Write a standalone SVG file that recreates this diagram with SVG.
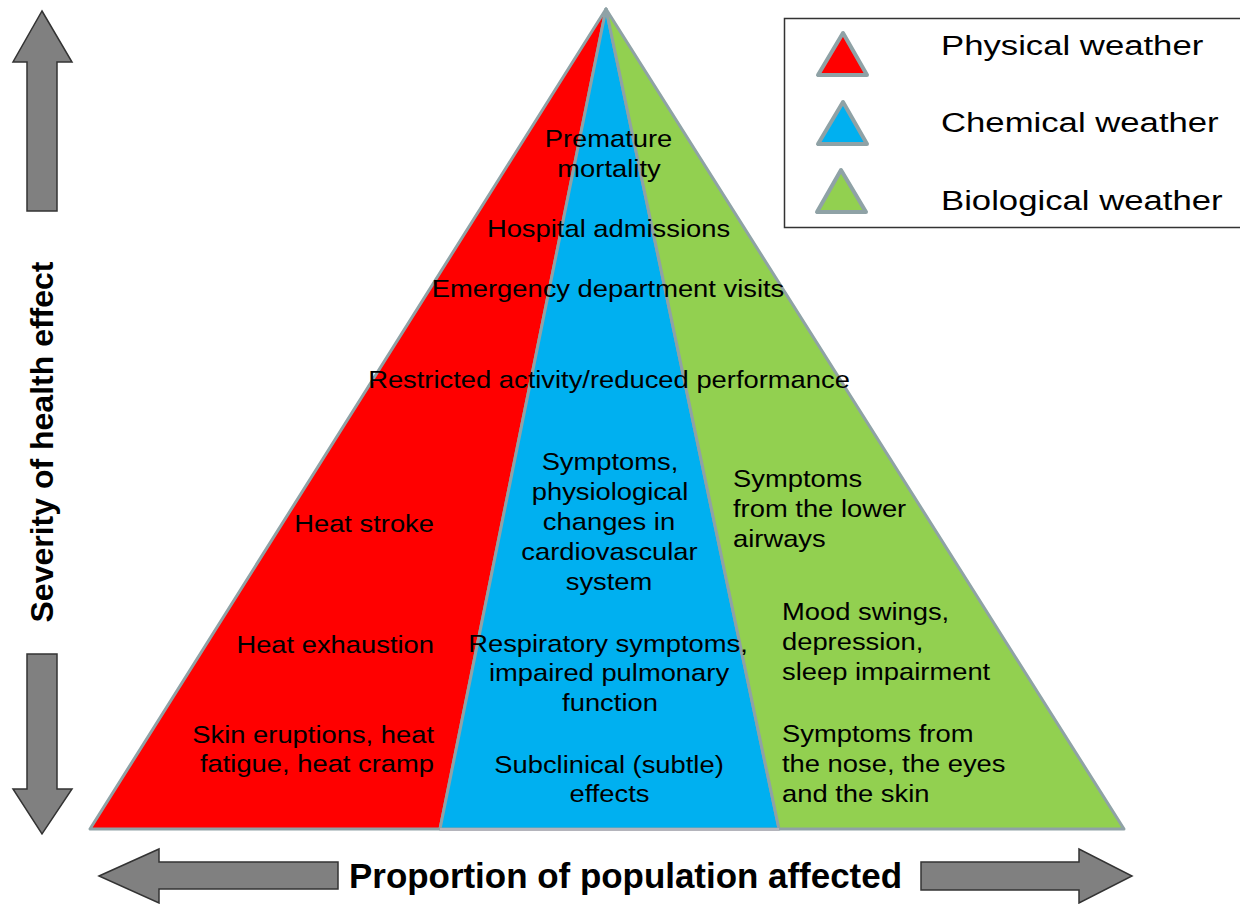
<svg xmlns="http://www.w3.org/2000/svg" width="1240" height="904" viewBox="0 0 1240 904">
<style>
.seg{stroke:#8fa2a6;stroke-width:3;stroke-linejoin:round}
.red{fill:#ff0000}.blue{fill:#00b0f0}.green{fill:#92d050}
.lt{stroke:#8fa2a6;stroke-width:4;stroke-linejoin:round}
.arr{fill:#808080;stroke:#333333;stroke-width:1.5;stroke-linejoin:miter}
.t{font-family:"Liberation Sans",Arial,sans-serif;font-size:24px;fill:#000}
.c{text-anchor:middle}.r{text-anchor:end}
.lg{font-family:"Liberation Sans",Arial,sans-serif;font-size:28px;fill:#000}
.ax{font-family:"Liberation Sans",Arial,sans-serif;font-weight:bold;fill:#000}
</style>
<rect width="1240" height="904" fill="#ffffff"/>

<g id="pyramid">
  <g id="physical"><polygon class="seg red" points="606,9 90,829 440,829"/></g>
  <g id="chemical"><polygon class="seg blue" points="606,9 440,829 779,829"/></g>
  <g id="biological"><polygon class="seg green" points="606,9 779,829 1124,829"/></g>
  <line x1="440" y1="829.5" x2="779" y2="829.5" stroke="#b4b4bb" stroke-width="3"/>
</g>

<g id="labels">
  <g id="severe">
    <text class="t c" transform="translate(608.5,147) scale(1.14,1)">Premature</text>
    <text class="t c" transform="translate(609,177) scale(1.14,1)">mortality</text>
    <text class="t c" transform="translate(608.5,237) scale(1.14,1)">Hospital admissions</text>
    <text class="t c" transform="translate(608,297) scale(1.14,1)">Emergency department visits</text>
    <text class="t c" transform="translate(609,388) scale(1.14,1)">Restricted activity/reduced performance</text>
  </g>
  <g id="physical-labels">
    <text class="t r" transform="translate(434,532) scale(1.14,1)">Heat stroke</text>
    <text class="t r" transform="translate(434,653) scale(1.14,1)">Heat exhaustion</text>
    <text class="t r" transform="translate(434,743) scale(1.14,1)">Skin eruptions, heat</text>
    <text class="t r" transform="translate(434,772) scale(1.14,1)">fatigue, heat cramp</text>
  </g>
  <g id="chemical-labels">
    <text class="t c" transform="translate(610,470) scale(1.14,1)">Symptoms,</text>
    <text class="t c" transform="translate(610,500) scale(1.14,1)">physiological</text>
    <text class="t c" transform="translate(609,530) scale(1.14,1)">changes in</text>
    <text class="t c" transform="translate(609.5,560) scale(1.14,1)">cardiovascular</text>
    <text class="t c" transform="translate(609,590) scale(1.14,1)">system</text>
    <text class="t c" transform="translate(608,652) scale(1.14,1)">Respiratory symptoms,</text>
    <text class="t c" transform="translate(609,681) scale(1.14,1)">impaired pulmonary</text>
    <text class="t c" transform="translate(610,711) scale(1.14,1)">function</text>
    <text class="t c" transform="translate(609,773) scale(1.14,1)">Subclinical (subtle)</text>
    <text class="t c" transform="translate(609.5,802) scale(1.14,1)">effects</text>
  </g>
  <g id="biological-labels">
    <text class="t" transform="translate(733,487) scale(1.14,1)">Symptoms</text>
    <text class="t" transform="translate(733,517) scale(1.14,1)">from the lower</text>
    <text class="t" transform="translate(733,547) scale(1.14,1)">airways</text>
    <text class="t" transform="translate(782,620) scale(1.14,1)">Mood swings,</text>
    <text class="t" transform="translate(782,650) scale(1.14,1)">depression,</text>
    <text class="t" transform="translate(782,680) scale(1.14,1)">sleep impairment</text>
    <text class="t" transform="translate(782,742) scale(1.14,1)">Symptoms from</text>
    <text class="t" transform="translate(782,772) scale(1.14,1)">the nose, the eyes</text>
    <text class="t" transform="translate(782,802) scale(1.14,1)">and the skin</text>
  </g>
</g>

<g id="legend">
  <rect x="784.5" y="18.5" width="470" height="209" fill="#ffffff" stroke="#333333" stroke-width="1.5"/>
  <g id="legend-physical">
    <polygon class="lt red" points="843,33 818,75 867,75"/>
    <text class="lg" transform="translate(941,55) scale(1.24,1)">Physical weather</text>
  </g>
  <g id="legend-chemical">
    <polygon class="lt blue" points="843,102 818,144 867,144"/>
    <text class="lg" transform="translate(941,132) scale(1.24,1)">Chemical weather</text>
  </g>
  <g id="legend-biological">
    <polygon class="lt green" points="841,170 817,212 866,212"/>
    <text class="lg" transform="translate(941,210) scale(1.24,1)">Biological weather</text>
  </g>
</g>

<g id="arrows">
  <polygon class="arr" points="42,11 72,62 57,62 57,211 27,211 27,62 13,62"/>
  <polygon class="arr" points="27,654 57,654 57,789 72,789 42,834 13,789 27,789"/>
  <polygon class="arr" points="99,876 159,849 159,862 338,862 338,889 159,889 159,903"/>
  <polygon class="arr" points="921,862 1079,862 1079,849 1132,876 1079,903 1079,890 921,890"/>
</g>

<g id="axis-labels">
  <text class="ax" font-size="35" x="349" y="888" textLength="553" lengthAdjust="spacingAndGlyphs">Proportion of population affected</text>
  <text class="ax" font-size="32" text-anchor="middle" transform="translate(53,442) rotate(-90)">Severity of health effect</text>
</g>
</svg>
